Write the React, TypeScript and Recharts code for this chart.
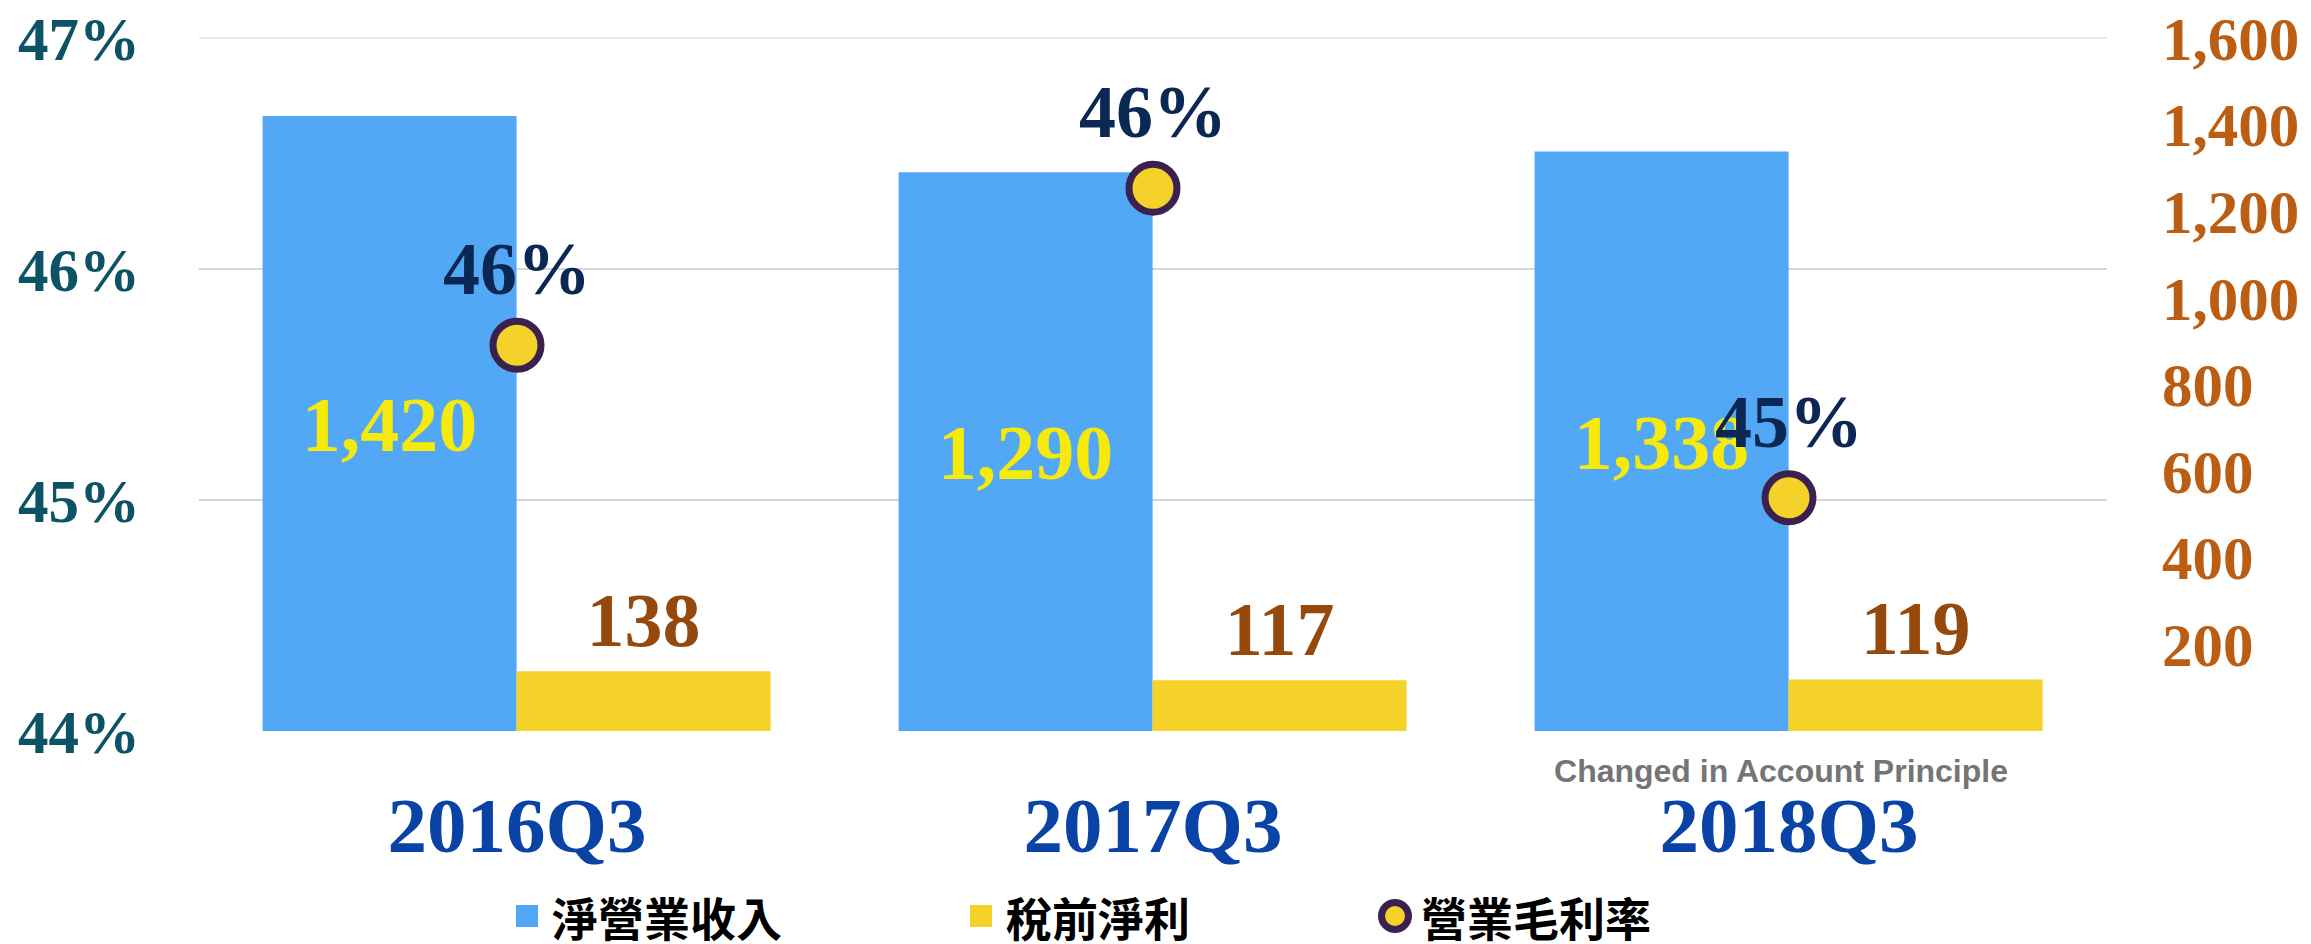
import { ComposedChart, Bar, Line, XAxis, YAxis, CartesianGrid, Legend, LabelList } from "recharts";

const quarters = ["2016Q3", "2017Q3", "2018Q3"];
const netRevenue = [1420, 1290, 1338];
const preTaxProfit = [138, 117, 119];
const grossMargin = [0.4567, 0.4635, 0.4501];
const notes = ["", "", "Changed in Account Principle"];
const seriesNames = ["淨營業收入", "稅前淨利", "營業毛利率"];
const leftTicks = [0.44, 0.45, 0.46, 0.47];
const rightTicks = [200, 400, 600, 800, 1000, 1200, 1400, 1600];
const gridValues = [0.45, 0.46, 0.47];

const data = quarters.map((q, i) => ({
  quarter: q,
  revenue: netRevenue[i],
  profit: preTaxProfit[i],
  margin: grossMargin[i],
  note: notes[i],
}));

const BLUE = "#53A8F6";
const YELLOW = "#F5D22A";
const DOT_STROKE = "#3B214F";
const SERIF = "'Liberation Serif', 'Times New Roman', serif";

const pct = (v: any) => `${Math.round(Number(v) * 100)}%`;
const num = (v: any) => Number(v).toLocaleString("en-US");

const CategoryTick = (props: any) => {
  const { x, y, payload } = props;
  const note = data[payload.index]?.note;
  return (
    <g>
      {note ? (
        <text
          x={x - 8}
          y={y - 70}
          textAnchor="middle"
          fontFamily="'Liberation Sans', Arial, sans-serif"
          fontWeight="bold"
          fontSize={32}
          fill="#757575"
        >
          {note}
        </text>
      ) : null}
      <text x={x} y={y} textAnchor="middle" fontFamily={SERIF} fontWeight="bold" fontSize={79} fill="#0A43A6">
        {payload.value}
      </text>
    </g>
  );
};

const GridLine = (props: any) => {
  const { x1, x2, y1, y2, y } = props;
  const isTop = Math.abs(y1 - y) < 1;
  return <line x1={x1} x2={x2} y1={y1} y2={y2} stroke={isTop ? "#ebebeb" : "#d6d6d6"} strokeWidth={2} />;
};

const renderLegend = () => {
  const markers = [
    <span style={{ display: "inline-block", width: 22, height: 22, background: BLUE, marginRight: 14 }} />,
    <span style={{ display: "inline-block", width: 22, height: 22, background: YELLOW, marginRight: 14 }} />,
    <svg width={34} height={34} style={{ marginRight: 9 }}>
      <circle cx={17} cy={17} r={13.5} fill={YELLOW} stroke={DOT_STROKE} strokeWidth={7} />
    </svg>,
  ];
  return (
    <div style={{ display: "flex", alignItems: "center", paddingLeft: 516 }}>
      {seriesNames.map((name, i) => (
        <div key={name} style={{ display: "flex", alignItems: "center", marginRight: 188 }}>
          {markers[i]}
          <span
            style={{
              fontFamily: "'Noto Sans CJK TC', sans-serif",
              fontWeight: 700,
              fontSize: 46,
              lineHeight: "46px",
              color: "#000",
            }}
          >
            {name}
          </span>
        </div>
      ))}
    </div>
  );
};

export default function App() {
  return (
    <div style={{ position: "absolute", left: 0, top: 0, background: "#fff" }}>
      <ComposedChart
        width={2311}
        height={944}
        data={data}
        margin={{ top: 38, right: 0, bottom: 63, left: 0 }}
        barCategoryGap="10%"
        barGap={0}
      >
        <CartesianGrid yAxisId="left" vertical={false} horizontalValues={gridValues} horizontal={GridLine} />
        <XAxis
          dataKey="quarter"
          height={150}
          axisLine={false}
          tickLine={false}
          tickSize={0}
          tickMargin={121}
          tick={CategoryTick}
          interval={0}
        />
        <YAxis
          yAxisId="left"
          orientation="left"
          width={199}
          domain={[0.44, 0.47]}
          ticks={leftTicks}
          tickFormatter={pct}
          axisLine={false}
          tickLine={false}
          tickSize={0}
          tickMargin={59}
          tick={{ fill: "#0D5366", fontSize: 61, fontFamily: SERIF, fontWeight: "bold" }}
        />
        <YAxis
          yAxisId="right"
          orientation="right"
          width={204}
          domain={[0, 1600]}
          ticks={rightTicks}
          tickFormatter={num}
          axisLine={false}
          tickLine={false}
          tickSize={0}
          tickMargin={55}
          tick={{ fill: "#BB5D12", fontSize: 61, fontFamily: SERIF, fontWeight: "bold", textAnchor: "start" }}
        />
        <Bar yAxisId="right" dataKey="revenue" name={seriesNames[0]} fill={BLUE} isAnimationActive={false}>
          <LabelList
            dataKey="revenue"
            position="center"
            formatter={num}
            fill="#F6E90C"
            fontSize={78}
            fontFamily={SERIF}
            fontWeight="bold"
          />
        </Bar>
        <Bar yAxisId="right" dataKey="profit" name={seriesNames[1]} fill={YELLOW} isAnimationActive={false}>
          <LabelList
            dataKey="profit"
            position="top"
            offset={25}
            formatter={num}
            fill="#96490C"
            fontSize={76}
            fontFamily={SERIF}
            fontWeight="bold"
          />
        </Bar>
        <Line
          yAxisId="left"
          dataKey="margin"
          name={seriesNames[2]}
          stroke="none"
          legendType="circle"
          dot={{ r: 24, fill: YELLOW, stroke: DOT_STROKE, strokeWidth: 7 }}
          activeDot={false}
          isAnimationActive={false}
        >
          <LabelList
            dataKey="margin"
            position="top"
            offset={51}
            formatter={pct}
            fill="#0B2753"
            fontSize={74}
            fontFamily={SERIF}
            fontWeight="bold"
          />
        </Line>
        <Legend
          layout="horizontal"
          verticalAlign="middle"
          align="center"
          content={renderLegend}
          wrapperStyle={{ left: 0, top: 893, width: 2311, height: 46 }}
        />
      </ComposedChart>
    </div>
  );
}
